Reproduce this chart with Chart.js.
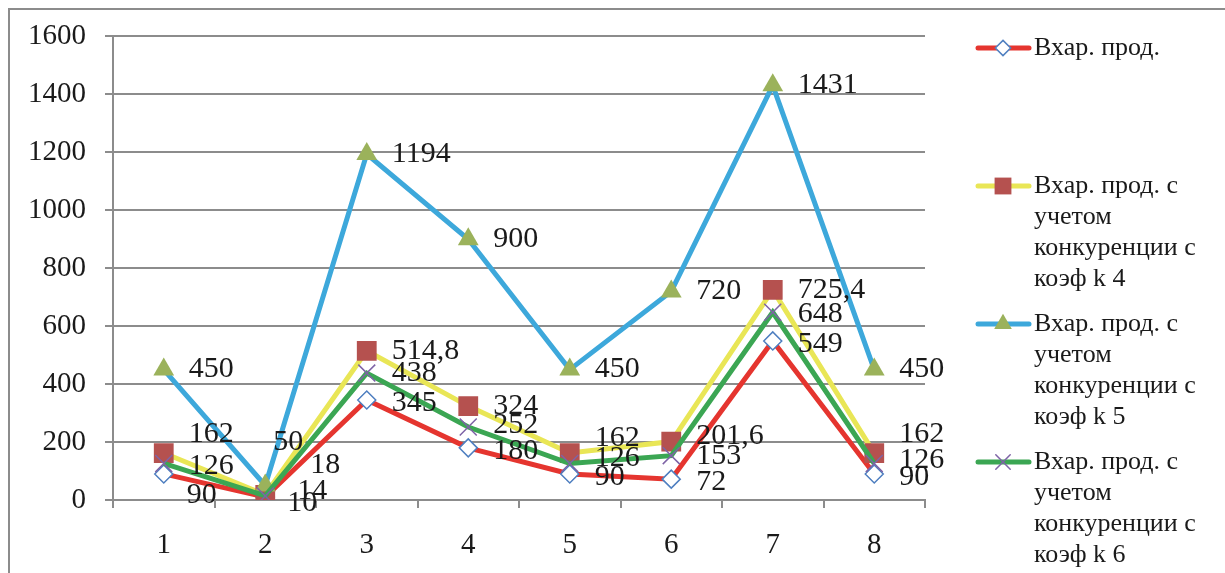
<!DOCTYPE html>
<html>
<head>
<meta charset="utf-8">
<script src="https://cdn.jsdelivr.net/npm/chart.js@4/dist/chart.umd.min.js"></script>
<style>
  html, body { margin: 0; padding: 0; background: #fff; overflow: hidden; }
  #wrap  { position: relative; width: 1225px; height: 573px; }
  #frame { position: absolute; left: 8px; top: 8px; width: 1300px; height: 700px;
           border: 2px solid #8c8c8c; box-sizing: border-box; }
  canvas { position: absolute; left: 0; top: 0; }
</style>
</head>
<body>
<div id="wrap">
  <div id="frame"></div>
  <canvas id="chart" width="1225" height="573"></canvas>
</div>
<script>
/* ── Data ───────────────────────────────────────────────── */
const periods   = ["1", "2", "3", "4", "5", "6", "7", "8"];
const baseSales = [90, 10, 345, 180, 90, 72, 549, 90];
const salesK4   = [162, 18, 514.8, 324, 162, 201.6, 725.4, 162];
const salesK5   = [450, 50, 1194, 900, 450, 720, 1431, 450];
const salesK6   = [126, 14, 438, 252, 126, 153, 648, 126];
const seriesNames = [
  "Вхар. прод.",
  "Вхар. прод. с учетом конкуренции с коэф k 4",
  "Вхар. прод. с учетом конкуренции с коэф k 5",
  "Вхар. прод. с учетом конкуренции с коэф k 6",
];

/* ── Label nudges (px), so overlapping labels sit like the original ── */
const labelBase  = [[0, 3], [0, 0], [0, 0], [0, 0]];
const labelNudge = [
  { 0: [-2, 21], 1: [-3, 6] },
  { 0: [0, -19], 1: [20, -30], 4: [0, -15], 5: [0, -5], 7: [0, -19] },
  { 1: [-17, -43] },
  { 0: [0, 3], 1: [7, -5], 3: [0, -2], 4: [0, -5], 6: [0, 2], 7: [0, -3] },
];

const SERIF = '"Liberation Serif", "Times New Roman", serif';
const GRID  = "#8c8c8c";
const TEXT  = "#1a1a1a";

/* ── Marker helper (legend) ─────────────────────────────── */
function marker(ctx, style, x, y, r, fill, stroke, lw) {
  ctx.save();
  ctx.fillStyle = fill; ctx.strokeStyle = stroke; ctx.lineWidth = lw;
  ctx.beginPath();
  if (style === "rectRot") {
    ctx.moveTo(x, y - r); ctx.lineTo(x + r, y); ctx.lineTo(x, y + r); ctx.lineTo(x - r, y);
    ctx.closePath(); ctx.fill(); ctx.stroke();
  } else if (style === "rect") {
    const s = r * Math.SQRT1_2;
    ctx.rect(x - s, y - s, 2 * s, 2 * s); ctx.fill();
  } else if (style === "triangle") {
    const w = r * Math.sqrt(3) / 2;
    ctx.moveTo(x, y - r); ctx.lineTo(x + w, y + r / 2); ctx.lineTo(x - w, y + r / 2);
    ctx.closePath(); ctx.fill();
  } else if (style === "crossRot") {
    const o = r * Math.SQRT1_2;
    ctx.moveTo(x - o, y - o); ctx.lineTo(x + o, y + o);
    ctx.moveTo(x + o, y - o); ctx.lineTo(x - o, y + o);
    ctx.stroke();
  }
  ctx.restore();
}

/* ── Plugins ────────────────────────────────────────────── */
const valueLabels = {
  id: "valueLabels",
  afterDatasetsDraw(chart) {
    const ctx = chart.ctx;
    ctx.save();
    ctx.font = "30px " + SERIF;
    ctx.fillStyle = TEXT;
    ctx.textAlign = "left";
    ctx.textBaseline = "middle";
    chart.data.datasets.forEach((ds, i) => {
      chart.getDatasetMeta(i).data.forEach((pt, j) => {
        const n = labelNudge[i][j] || labelBase[i];
        const txt = String(ds.data[j]).replace(".", ",");
        ctx.fillText(txt, pt.x + 25 + n[0], pt.y + n[1]);
      });
    });
    ctx.restore();
  },
};

const sideLegend = {
  id: "sideLegend",
  afterDraw(chart) {
    const ctx = chart.ctx;
    ctx.save();
    ctx.font = "26px " + SERIF;
    ctx.fillStyle = TEXT;
    ctx.textBaseline = "middle";
    chart.data.datasets.forEach((ds, i) => {
      const y = 48 + i * 138;
      ctx.strokeStyle = ds.borderColor;
      ctx.lineWidth = 5;
      ctx.lineCap = "round";
      ctx.beginPath(); ctx.moveTo(978, y); ctx.lineTo(1029, y); ctx.stroke();
      marker(ctx, ds.pointStyle, 1003, y, ds.pointRadius * 0.85,
             ds.pointBackgroundColor, ds.pointBorderColor, ds.pointBorderWidth);

      // word-wrap the label into the legend column
      const words = ds.label.split(" ");
      const lines = [];
      let cur = "";
      words.forEach(w => {
        const t = cur ? cur + " " + w : w;
        if (ctx.measureText(t).width > 188 && cur) { lines.push(cur); cur = w; }
        else cur = t;
      });
      lines.push(cur);
      ctx.fillStyle = TEXT;
      lines.forEach((l, k) => ctx.fillText(l, 1034, y + k * 31));
    });
    ctx.restore();
  },
};

/* ── Chart ──────────────────────────────────────────────── */
new Chart(document.getElementById("chart"), {
  type: "line",
  data: {
    labels: periods,
    datasets: [
      {
        label: seriesNames[0], data: baseSales, order: 4,
        borderColor: "#e5352f", borderWidth: 5,
        pointStyle: "rectRot", pointRadius: 9, pointBorderWidth: 1.5,
        pointBackgroundColor: "#ffffff", pointBorderColor: "#4f7fc0",
      },
      {
        label: seriesNames[1], data: salesK4, order: 3,
        borderColor: "#e9e656", borderWidth: 5,
        pointStyle: "rect", pointRadius: 14, pointBorderWidth: 0,
        pointBackgroundColor: "#b5514f", pointBorderColor: "#b5514f",
      },
      {
        label: seriesNames[2], data: salesK5, order: 2,
        borderColor: "#3da8db", borderWidth: 5,
        pointStyle: "triangle", pointRadius: 12, pointBorderWidth: 0,
        pointBackgroundColor: "#9bb25b", pointBorderColor: "#9bb25b",
      },
      {
        label: seriesNames[3], data: salesK6, order: 1,
        borderColor: "#3ba653", borderWidth: 5,
        pointStyle: "crossRot", pointRadius: 12, pointBorderWidth: 1.5,
        pointBackgroundColor: "#7e63a6", pointBorderColor: "#7e63a6",
      },
    ],
  },
  options: {
    responsive: false,
    animation: false,
    layout: { padding: { top: 33, right: 300, left: 0, bottom: 0 } },
    plugins: { legend: { display: false }, tooltip: { enabled: false } },
    elements: { line: { tension: 0 } },
    scales: {
      x: {
        offset: true,
        afterFit: s => { s.height = 73; },
        grid: { drawOnChartArea: false, color: GRID, lineWidth: 2, tickLength: 8, offset: true },
        border: { color: GRID, width: 2 },
        ticks: { color: TEXT, padding: 20, font: { family: SERIF, size: 29 } },
      },
      y: {
        min: 0, max: 1600,
        afterFit: s => { s.width = 113; },
        grid: { color: GRID, lineWidth: 2, tickLength: 8 },
        border: { color: GRID, width: 2 },
        ticks: {
          stepSize: 200, color: TEXT, padding: 19,
          font: { family: SERIF, size: 29 },
          callback: v => String(v),
        },
      },
    },
  },
  plugins: [valueLabels, sideLegend],
});
</script>
</body>
</html>
